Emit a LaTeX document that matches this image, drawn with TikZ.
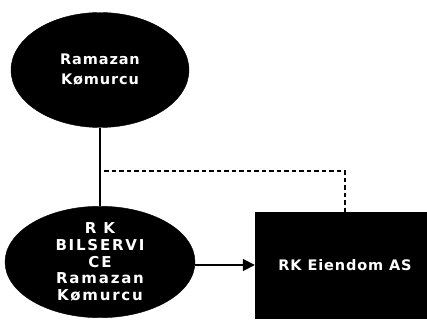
\documentclass[tikz,border=0pt]{standalone}
\usepackage{fontspec}
\setmainfont{DejaVu Sans}
\newfontfamily\lblfont[LetterSpace=6]{DejaVu Sans}
\newfontfamily\widefont[LetterSpace=12]{DejaVu Sans}
\usetikzlibrary{shapes.geometric,arrows.meta}
\begin{document}
\begin{tikzpicture}[x=1pt,y=-1pt,
  ent/.style={fill=black,draw=black,text=white,align=center,font=\lblfont\bfseries\fontsize{14.5}{20}\selectfont,inner sep=0pt},
  oval/.style={ent,ellipse},
  link/.style={draw=black,line width=1.7pt},
  dashlink/.style={draw=black,line width=1.7pt,dash pattern=on 4.5pt off 3pt},
  tip/.style={-{Triangle[length=12pt,width=12pt]}}]
\useasboundingbox (0,0) rectangle (427,320);
\clip (0,0) rectangle (427,320);
\node[oval,minimum width=178pt,minimum height=115pt] (top) at (100,70) {Ramazan\\Kømurcu};
\node[oval,minimum width=190pt,minimum height=108pt,font=\widefont\bfseries\fontsize{15}{16.8}\selectfont] (bil) at (100,262) {R K\\BILSERVI\\CE\\Ramazan\\Kømurcu};
\node[ent,rectangle,minimum width=180pt,minimum height=106pt] (eie) at (345,265) {RK Eiendom AS};
\coordinate (d0) at (104,171);
\draw[link] (top.south) -- (bil.north);
\draw[dashlink] (d0) -| (eie.north);
\draw[link,tip] (bil.east |- eie.west) -- (eie.west);
\end{tikzpicture}
\end{document}
